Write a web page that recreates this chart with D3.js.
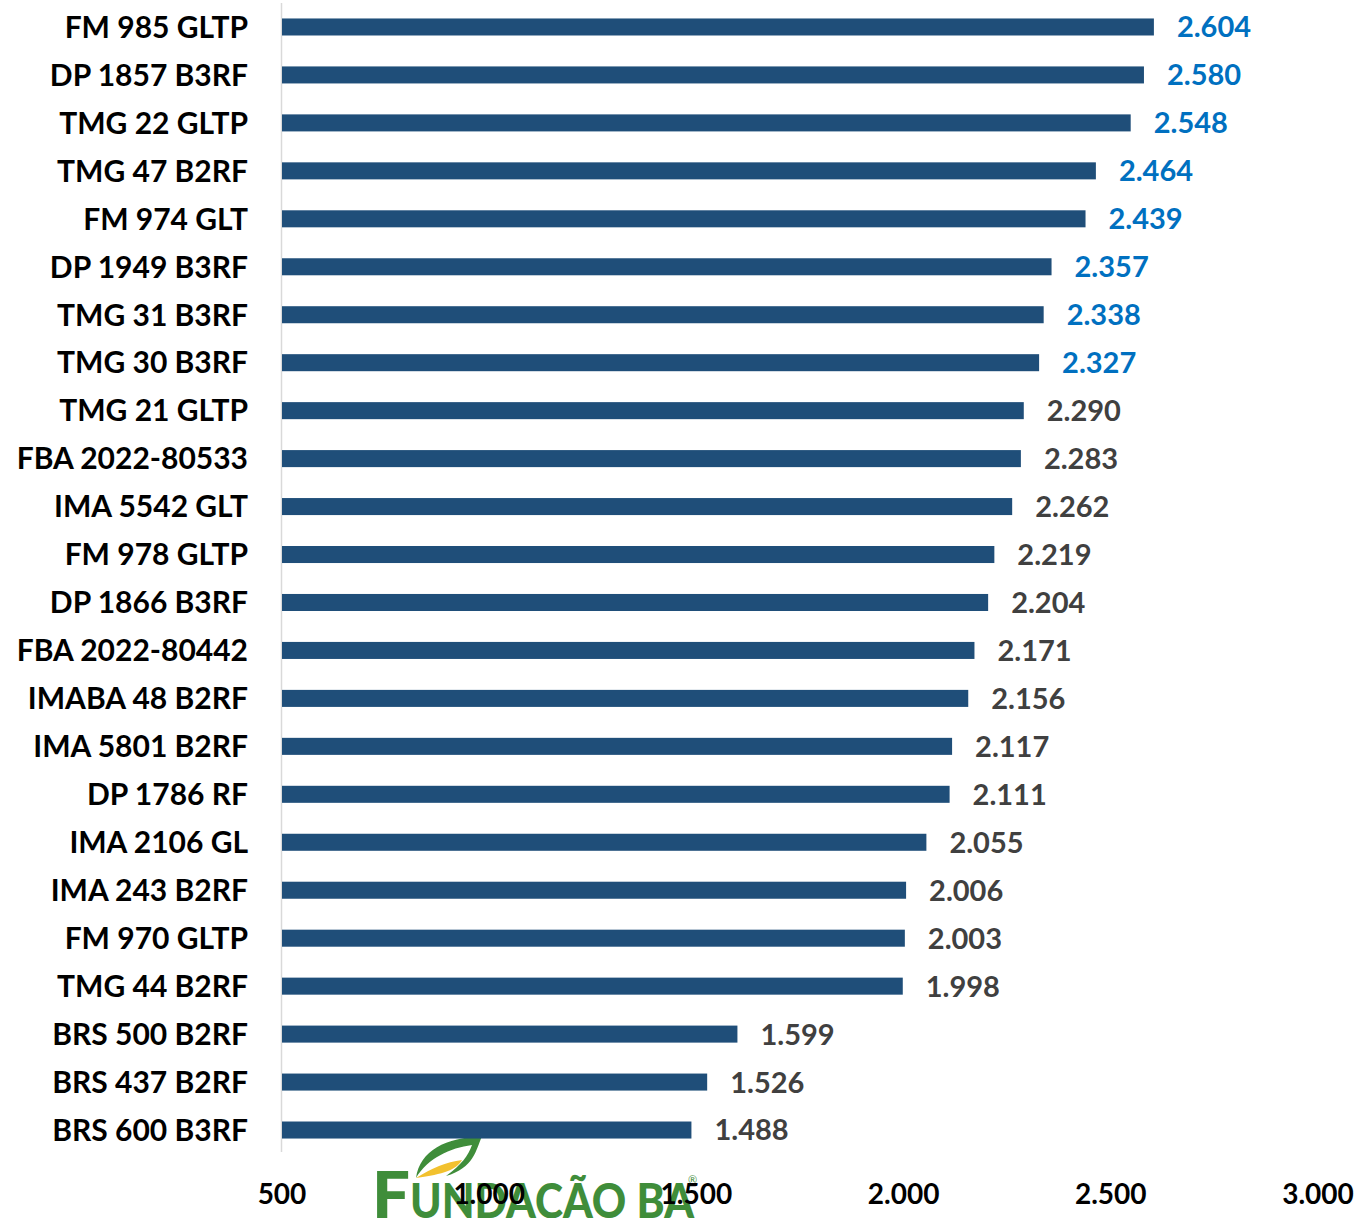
<!DOCTYPE html>
<html>
<head>
<meta charset="utf-8">
<script src="https://cdn.jsdelivr.net/npm/d3@7"></script>
<style>
  body { margin: 0; background: #fff; }
  svg { display: block; font-family: Lato, "Open Sans", sans-serif; }
</style>
</head>
<body>
<div id="chart"></div>
<script>
// cultivares e produtividade
const cultivars = ["FM 985 GLTP", "DP 1857 B3RF", "TMG 22 GLTP", "TMG 47 B2RF", "FM 974 GLT",
  "DP 1949 B3RF", "TMG 31 B3RF", "TMG 30 B3RF", "TMG 21 GLTP", "FBA 2022-80533",
  "IMA 5542 GLT", "FM 978 GLTP", "DP 1866 B3RF", "FBA 2022-80442", "IMABA 48 B2RF",
  "IMA 5801 B2RF", "DP 1786 RF", "IMA 2106 GL", "IMA 243 B2RF", "FM 970 GLTP",
  "TMG 44 B2RF", "BRS 500 B2RF", "BRS 437 B2RF", "BRS 600 B3RF"];
const values = [2604, 2580, 2548, 2464, 2439, 2357, 2338, 2327, 2290, 2283, 2262, 2219,
  2204, 2171, 2156, 2117, 2111, 2055, 2006, 2003, 1998, 1599, 1526, 1488];
const highlighted = 8; // first 8 labels in blue
const ticks = [500, 1000, 1500, 2000, 2500, 3000];

const W = 1360, H = 1218;
const data = cultivars.map((c, i) => ({ name: c, value: values[i], top: i < highlighted }));

const fmt = v => d3.format(",")(v).replace(/,/g, ".");

const svg = d3.select("#chart").append("svg")
  .attr("width", W).attr("height", H);

const x = d3.scaleLinear().domain([500, 3000]).range([282, 1318]);
const y = d3.scaleBand().domain(cultivars).range([3, 1154])
  .paddingInner(0.645).paddingOuter(0.3225);

// logo (background)
const logo = svg.append("g").attr("class", "logo");
logo.append("path")
  .attr("d", "M416,1178 C420,1150 446,1138 482,1136 C476,1150 474,1168 446,1176 C462,1164 468,1156 472,1145 C450,1148 428,1158 416,1178 Z")
  .attr("fill", "#3f8d3a");
logo.append("path")
  .attr("d", "M416,1178 C432,1168 446,1162 462,1160 C456,1170 444,1174 416,1178 Z")
  .attr("fill", "#f2c12e");
const lt = logo.append("text")
  .attr("x", 372).attr("y", 1218)
  .attr("fill", "#3f8d3a")
  .style("font-weight", 900);
lt.append("tspan").attr("font-size", 64).attr("textLength", 38).attr("lengthAdjust", "spacingAndGlyphs").text("F");
lt.append("tspan").attr("font-size", 48).attr("textLength", 284).attr("lengthAdjust", "spacingAndGlyphs").text("UNDAÇÃO BA");
logo.append("text").attr("x", 688).attr("y", 1184).attr("font-size", 11).attr("fill", "#3f8d3a").text("®");

// axis line
svg.append("line")
  .attr("x1", x(500) - 0.5).attr("x2", x(500) - 0.5)
  .attr("y1", 3).attr("y2", 1152)
  .attr("stroke", "#d9d9d9").attr("stroke-width", 1.5);

// bars
svg.selectAll(".bar")
  .data(data)
  .enter().append("rect")
  .attr("class", "bar")
  .attr("x", x(500))
  .attr("y", d => y(d.name))
  .attr("width", d => x(d.value) - x(500))
  .attr("height", y.bandwidth())
  .attr("fill", "#1f4e79");

// value labels
svg.selectAll(".val")
  .data(data)
  .enter().append("text")
  .attr("class", "val")
  .attr("x", d => x(d.value) + 23)
  .attr("y", d => y(d.name) + y.bandwidth() / 2)
  .attr("dy", "0.36em")
  .attr("font-size", 29)
  .attr("font-weight", 700)
  .attr("fill", d => d.top ? "#0070c0" : "#404040")
  .text(d => fmt(d.value));

// category labels
svg.selectAll(".cat")
  .data(data)
  .enter().append("text")
  .attr("class", "cat")
  .attr("x", 248)
  .attr("y", d => y(d.name) + y.bandwidth() / 2)
  .attr("dy", "0.36em")
  .attr("text-anchor", "end")
  .attr("font-size", 30)
  .attr("font-weight", 700)
  .attr("fill", "#000")
  .text(d => d.name);

// x tick labels
svg.selectAll(".tick-label")
  .data(ticks)
  .enter().append("text")
  .attr("class", "tick-label")
  .attr("x", d => x(d))
  .attr("y", 1194)
  .attr("dy", "0.36em")
  .attr("text-anchor", "middle")
  .attr("font-size", 28)
  .attr("font-weight", 700)
  .attr("fill", "#000")
  .text(d => fmt(d));
</script>
</body>
</html>
